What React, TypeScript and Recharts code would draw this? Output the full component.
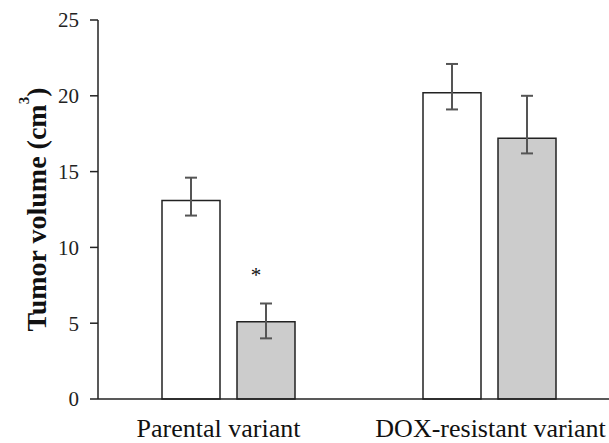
import { BarChart, Bar, XAxis, YAxis, ErrorBar, LabelList, Label } from 'recharts';

const categories = ['Parental variant', 'DOX-resistant variant'];
const controlValues = [13.1, 20.2];
const controlErrors: [number, number][] = [
  [1.0, 1.5],
  [1.1, 1.9],
];
const treatedValues = [5.1, 17.2];
const treatedErrors: [number, number][] = [
  [1.1, 1.2],
  [1.0, 2.8],
];
const significance = ['*', ''];
const yTicks = [0, 5, 10, 15, 20, 25];

const chartData = categories.map((name, i) => ({
  name,
  control: controlValues[i],
  controlErr: controlErrors[i],
  treated: treatedValues[i],
  treatedErr: treatedErrors[i],
  sig: significance[i],
}));

const serif = '"Liberation Serif", "Times New Roman", serif';

// category labels in the original sit slightly off the group centres
const labelShift = [-10, 1];

function CategoryTick({ x, y, payload, index }: any) {
  return (
    <text
      x={x + (labelShift[index] ?? 0)}
      y={y}
      dy="0.71em"
      textAnchor="middle"
      fontFamily={serif}
      fontSize={26}
      fill="#111"
    >
      {payload.value}
    </text>
  );
}

function YTitle({ viewBox }: any) {
  const cx = viewBox.x + 36;
  const cy = viewBox.y + viewBox.height / 2;
  return (
    <text
      x={cx}
      y={cy}
      transform={`rotate(-90, ${cx}, ${cy})`}
      textAnchor="middle"
      dominantBaseline="central"
      fontFamily={serif}
      fontWeight="bold"
      fontSize={28}
      fill="#111"
    >
      Tumor volume (cm
      <tspan fontSize={15} dy={-12}>3</tspan>
      <tspan dy={12}>)</tspan>
    </text>
  );
}

function SigMark({ x, y, width, value }: any) {
  if (!value) return null;
  return (
    <text
      x={x + width / 2 - 10}
      y={y - 40}
      textAnchor="middle"
      fontFamily={serif}
      fontSize={21}
      fill="#111"
    >
      {value}
    </text>
  );
}

export default function App() {
  return (
    <div
      style={{
        position: 'absolute',
        left: 0,
        top: 0,
        width: 609,
        height: 443,
        overflow: 'hidden',
        background: '#fff',
      }}
    >
      <BarChart
        width={625}
        height={443}
        data={chartData}
        margin={{ top: 20, right: 5, bottom: 0, left: 0 }}
        barSize={58}
        barGap={17}
      >
        <XAxis
          dataKey="name"
          height={44}
          tickLine={false}
          tickSize={0}
          tickMargin={20}
          axisLine={{ stroke: '#222', strokeWidth: 1.5 }}
          tick={<CategoryTick />}
        />
        <YAxis
          width={98}
          domain={[0, 25]}
          ticks={yTicks}
          tickSize={8}
          tickMargin={11}
          axisLine={{ stroke: '#222', strokeWidth: 1.5 }}
          tickLine={{ stroke: '#222', strokeWidth: 1.5 }}
          tick={{ fontFamily: serif, fontSize: 21, fill: '#222' }}
        >
          <Label content={<YTitle />} />
        </YAxis>
        <Bar
          dataKey="control"
          fill="#ffffff"
          stroke="#222"
          strokeWidth={1.5}
          isAnimationActive={false}
        >
          <ErrorBar dataKey="controlErr" width={6} stroke="#555" strokeWidth={2} />
        </Bar>
        <Bar
          dataKey="treated"
          fill="#cccccc"
          stroke="#222"
          strokeWidth={1.5}
          isAnimationActive={false}
        >
          <ErrorBar dataKey="treatedErr" width={6} stroke="#555" strokeWidth={2} />
          <LabelList dataKey="sig" content={<SigMark />} />
        </Bar>
      </BarChart>
    </div>
  );
}
